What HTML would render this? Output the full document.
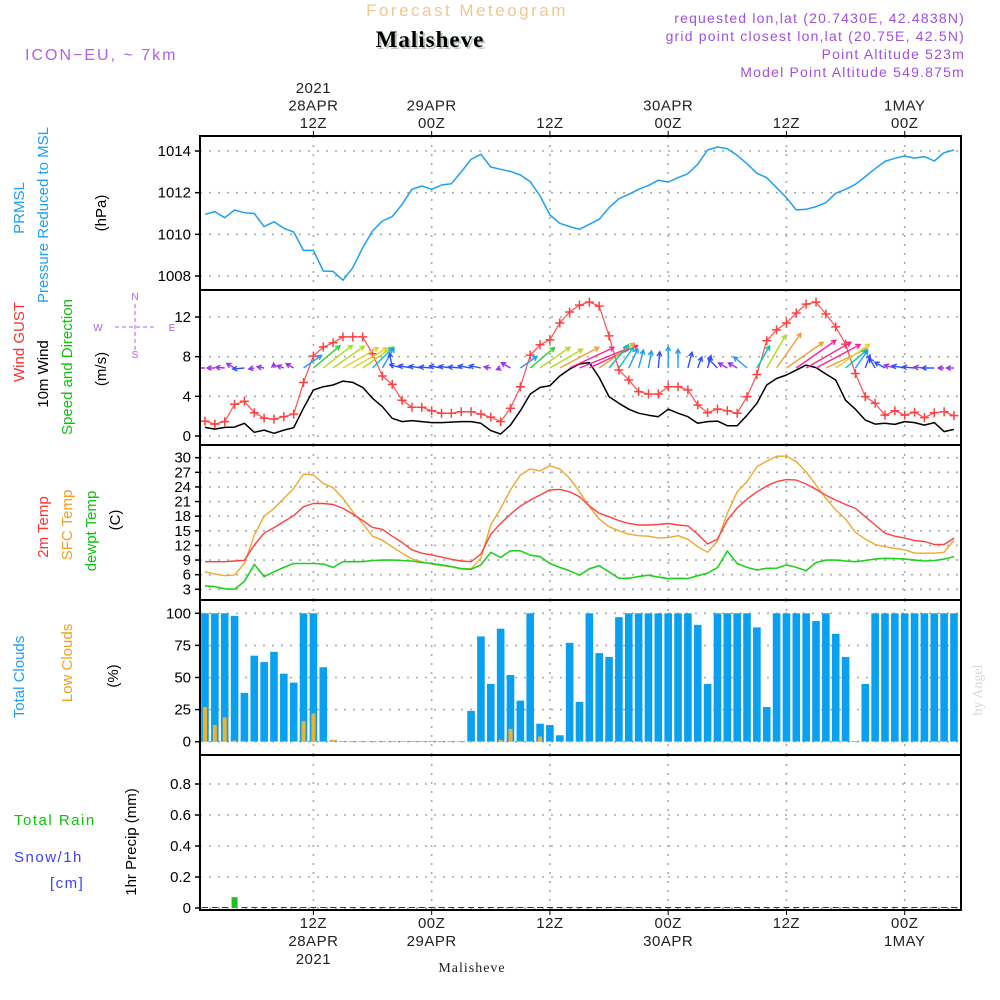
<!DOCTYPE html>
<html><head><meta charset="utf-8"><title>Meteogram Malisheve</title>
<style>
html,body{margin:0;padding:0;background:#fff;}
svg{display:block;font-family:"Liberation Sans",sans-serif;}
.tk{font-size:15px;fill:#000;text-anchor:end;}
.tl{font-size:15px;fill:#222;text-anchor:middle;letter-spacing:0.5px;}
.lab{font-size:15px;}
</style></head>
<body>
<svg id="chart" width="1000" height="1000" viewBox="0 0 1000 1000" xmlns="http://www.w3.org/2000/svg">
<rect x="0" y="0" width="1000" height="1000" fill="#fff"/>
<text x="467" y="16" font-size="17" fill="#f0c890" text-anchor="middle" letter-spacing="2.5">Forecast Meteogram</text>
<text x="432" y="49" font-size="23" font-weight="bold" font-family="Liberation Serif, serif" fill="#b8c8b8" text-anchor="middle" letter-spacing="1">Malisheve</text>
<text x="430" y="47" font-size="23" font-weight="bold" font-family="Liberation Serif, serif" fill="#000" text-anchor="middle" letter-spacing="1">Malisheve</text>
<text x="25" y="60" font-size="16" fill="#b060e8" letter-spacing="2">ICON−EU, ~ 7km</text>
<g font-size="14" fill="#a050e0" text-anchor="end" letter-spacing="1.2">
<text x="965" y="23">requested lon,lat (20.7430E, 42.4838N)</text>
<text x="965" y="41">grid point closest lon,lat (20.75E, 42.5N)</text>
<text x="965" y="59">Point Altitude 523m</text>
<text x="965" y="77">Model Point Altitude 549.875m</text>
</g>
<!-- left labels -->
<g class="lab">
<text transform="translate(24,208) rotate(-90)" fill="#1ea0f0" text-anchor="middle">PRMSL</text>
<text transform="translate(48,215) rotate(-90)" fill="#1ea0f0" text-anchor="middle">Pressure Reduced to MSL</text>
<text transform="translate(106,213) rotate(-90)" fill="#000" text-anchor="middle">(hPa)</text>
<text transform="translate(24,342) rotate(-90)" fill="#ff3030" text-anchor="middle">Wind GUST</text>
<text transform="translate(48,374) rotate(-90)" fill="#000" text-anchor="middle">10m Wind</text>
<text transform="translate(72,367) rotate(-90)" fill="#10c010" text-anchor="middle">Speed and Direction</text>
<text transform="translate(106,369) rotate(-90)" fill="#000" text-anchor="middle">(m/s)</text>
<text transform="translate(48,527) rotate(-90)" fill="#ff3030" text-anchor="middle">2m Temp</text>
<text transform="translate(72,525) rotate(-90)" fill="#f0a020" text-anchor="middle">SFC Temp</text>
<text transform="translate(96,531) rotate(-90)" fill="#10c010" text-anchor="middle">dewpt Temp</text>
<text transform="translate(120,520) rotate(-90)" fill="#000" text-anchor="middle">(C)</text>
<text transform="translate(24,677) rotate(-90)" fill="#1ea0f0" text-anchor="middle">Total Clouds</text>
<text transform="translate(72,663) rotate(-90)" fill="#f0a020" text-anchor="middle">Low Clouds</text>
<text transform="translate(118,676) rotate(-90)" fill="#000" text-anchor="middle">(%)</text>
<text x="14" y="825" fill="#10c010" letter-spacing="1.5">Total  Rain</text>
<text x="14" y="862" fill="#4040ff" letter-spacing="1.5">Snow/1h</text>
<text x="50" y="888" fill="#4040ff" letter-spacing="1.5">[cm]</text>
<text transform="translate(136,842) rotate(-90)" fill="#000" text-anchor="middle">1hr Precip (mm)</text>
</g>
<g fill="#b060e8" stroke="#b060e8" font-size="10">
<text x="135" y="300" stroke="none" text-anchor="middle">N</text>
<text x="98" y="331" stroke="none" text-anchor="middle">W</text>
<text x="172" y="331" stroke="none" text-anchor="middle">E</text>
<text x="135" y="358" stroke="none" text-anchor="middle">S</text>
<line x1="115" y1="327" x2="155" y2="327" stroke-dasharray="4,3"/>
<line x1="135" y1="304" x2="135" y2="350" stroke-dasharray="4,3"/>
</g>
<text transform="translate(982,690) rotate(-90)" font-family="Liberation Serif, serif" font-size="14" fill="#d8d8d8" text-anchor="middle">by Angel</text>
<text x="472" y="972" font-family="Liberation Serif, serif" font-size="14" fill="#222" text-anchor="middle" letter-spacing="1">Malisheve</text>
<g id="plot"></g>
</svg>
<script>
// ---- data (hourly, index 0 = 01Z 28APR) ----
const pressure = [1010.96,1011.09,1010.8,1011.17,1011.04,1011.0,1010.37,1010.6,1010.29,1010.11,1009.23,1009.23,1008.24,1008.22,1007.8,1008.4,1009.36,1010.16,1010.64,1010.85,1011.44,1012.16,1012.32,1012.16,1012.37,1012.43,1012.99,1013.6,1013.84,1013.23,1013.12,1013.02,1012.85,1012.53,1011.84,1010.93,1010.53,1010.37,1010.24,1010.48,1010.72,1011.28,1011.71,1011.92,1012.16,1012.35,1012.6,1012.51,1012.72,1012.91,1013.36,1014.05,1014.19,1014.11,1013.79,1013.39,1012.93,1012.72,1012.24,1011.76,1011.17,1011.2,1011.33,1011.52,1011.97,1012.16,1012.4,1012.77,1013.15,1013.5,1013.65,1013.76,1013.66,1013.73,1013.52,1013.92,1014.05];
const gust = [1.5,1.2,1.45,3.2,3.5,2.35,1.8,1.7,1.95,2.2,5.4,8.06,8.97,9.4,10,10,10,8.3,6.05,5.2,3.6,2.9,2.9,2.55,2.3,2.3,2.45,2.45,2.2,1.9,1.45,2.8,4.97,8.15,9.2,9.7,11.4,12.5,13.2,13.5,13.1,10.1,6.65,5.65,4.47,4.23,4.23,4.97,4.97,4.64,3.13,2.35,2.72,2.55,2.3,3.97,6.2,9.6,10.7,11.4,12.4,13.3,13.5,12.3,11,9.27,6.3,3.97,3.3,2.1,2.55,2.1,2.4,1.85,2.35,2.45,2.05];
const wind = [0.87,0.7,0.87,0.9,1.28,0.37,0.6,0.27,0.6,0.84,2.8,4.64,4.97,5.14,5.54,5.4,4.9,3.8,2.95,1.78,1.45,1.55,1.45,1.35,1.35,1.4,1.45,1.45,1.28,0.54,0.2,1.1,2.55,4.23,4.9,5.07,6.05,6.75,7.26,7.4,5.9,3.97,3.3,2.7,2.3,2.1,1.95,2.7,2.3,1.95,1.28,1.45,1.5,1.04,1.04,2.1,3.3,5.14,5.8,6.15,6.65,7.15,6.9,6.25,5.65,3.6,2.7,1.6,1.2,1.28,1.17,1.45,1.35,1.1,1.35,0.44,0.67];
const windDir = [180,180,175,150,185,190,170,95,160,150,35,40,38,35,30,30,35,45,60,100,165,170,172,175,170,172,175,170,168,170,200,150,35,40,35,30,28,25,22,25,35,50,55,65,75,80,85,90,90,75,70,75,135,150,150,140,60,60,55,35,35,30,28,25,35,40,55,70,120,150,165,170,175,175,180,180,180];
const temp2m = [8.67,8.67,8.67,8.8,8.95,12.1,14.5,15.65,16.9,18.1,19.95,20.6,20.6,20.4,19.6,18.45,17.1,15.7,15.3,13.9,12.6,11.1,10.4,10.05,9.6,9.15,8.8,8.67,10.25,14.3,16.5,18.4,20.1,21.3,22.35,23.4,23.5,23.0,22.0,20.1,18.6,17.9,17.1,16.5,16.2,16.2,16.3,16.5,16.2,16.0,14.3,12.3,13.3,17.2,19.7,21.5,23.0,24.2,25.1,25.5,25.4,24.6,23.5,22.3,21.3,20.4,19.6,17.9,16.2,14.5,13.9,13.5,13.0,12.8,12.2,12.2,13.5];
const tempSfc = [6.6,6.15,5.8,5.95,8.3,14.1,18.0,19.6,21.65,23.7,26.65,26.45,24.7,23.85,21.65,18.9,16.5,13.9,13.1,11.7,10.4,9.2,8.67,8.2,7.85,7.65,7.3,7.2,9.35,16.2,19.6,23.4,26.45,27.7,27.3,28.35,27.7,25.8,23.0,20.0,17.4,15.85,15.0,14.3,14.0,13.9,13.5,13.6,14.0,13.25,11.75,10.6,12.9,18.6,23.0,25.1,28.15,29.3,30.3,30.3,29.2,27.1,24.4,21.65,19.3,17.4,14.7,13.3,12.2,11.75,11.4,11.1,10.4,10.4,10.4,10.6,13.1];
const dewpt = [3.7,3.55,3.1,3.0,4.6,8.1,5.6,6.6,7.5,8.3,8.3,8.3,8.2,7.5,8.67,8.67,8.67,8.9,9.0,9.0,8.9,8.8,8.5,8.3,8.0,7.65,7.2,7.1,8.0,10.6,9.55,10.9,10.9,10.0,9.7,8.3,7.5,6.8,5.9,7.2,7.85,6.6,5.25,5.25,5.6,5.9,5.5,5.2,5.25,5.2,5.8,6.3,7.45,10.85,8.3,7.5,6.95,7.3,7.3,8.0,7.5,6.8,8.5,9.0,9.0,8.8,8.67,8.9,9.2,9.35,9.3,9.2,9.0,8.8,8.9,9.2,9.7];
const totalClouds = [100,100,100,98,38,67,62,70,53,46,100,100,58,1,0.5,0.5,0.5,0.5,0.5,0.5,0.5,0.5,0.5,0.5,0.5,0.5,0.5,24,82,45,88,52,32,100,14,13,5,77,31,100,69,66,97,100,100,100,100,100,100,100,91,45,100,100,100,100,89,27,100,100,100,100,94,100,84,66,0.5,45,100,100,100,100,100,100,100,100,100];
const lowClouds = [27,13,19,1,0.5,0.5,0.5,0.5,0.5,0.5,16,22,0.5,1.5,0.5,0.5,0.5,0.5,0.5,0.5,0.5,0.5,0.5,0.5,0.5,0.5,0.5,0.5,0.5,0.5,1.5,10,0.5,0.5,4,0.5,0.5,0.5,0.5,0.5,0.5,0.5,0.5,0.5,0.5,0.5,0.5,0.5,0.5,0.5,0.5,0.5,0.5,0.5,0.5,0.5,0.5,0.5,0.5,0.5,0.5,0.5,0.5,0.5,0.5,0.5,0.5,0.5,0.5,0.5,0.5,0.5,0.5,0.5,0.5,0.5,0.5];
const precip = [0,0,0,0.07,0,0,0,0,0,0,0,0,0,0,0,0,0,0,0,0,0,0,0,0,0,0,0,0,0,0,0,0,0,0,0,0,0,0,0,0,0,0,0,0,0,0,0,0,0,0,0,0,0,0,0,0,0,0,0,0,0,0,0,0,0,0,0,0,0,0,0,0,0,0,0,0,0];
const pressureTicks = [1008,1010,1012,1014];
const windTicks = [0,4,8,12];
const tempTicks = [3,6,9,12,15,18,21,24,27,30];
const cloudTicks = [0,25,50,75,100];
const precipTicks = [0,0.2,0.4,0.6,0.8];
const topLabels = [["2021","28APR","12Z"],["","29APR","00Z"],["","","12Z"],["","30APR","00Z"],["","","12Z"],["","1MAY","00Z"]];
const bottomLabels = [["12Z","28APR","2021"],["00Z","29APR",""],["12Z","",""],["00Z","30APR",""],["12Z","",""],["00Z","1MAY",""]];
const gridHours = [12,24,36,48,60,72];

// ---- layout ----
const L=200,R=961,START_HOUR=1;
const xH = h => 313.4 + (h-12)*9.855;
const xi = i => xH(i+START_HOUR);
const lin=(v0,p0,v1,p1)=>v=>p0+(v-v0)*(p1-p0)/(v1-v0);
const yP=lin(1008,276,1014,151), yW=lin(0,436,12,317), yT=lin(3,589.3,30,457.7), yC=lin(0,741.7,100,613.3), yR=lin(0,908,0.8,784);
const panels=[[136,290],[290,445],[445,600],[600,755],[755,910]];
const NS="http://www.w3.org/2000/svg";
const plot=document.getElementById('plot');
function mk(tag,attrs,parent){const e=document.createElementNS(NS,tag);for(const k in attrs)e.setAttribute(k,attrs[k]);(parent||plot).appendChild(e);return e;}

// clip
const defs=mk('defs',{});
const cp=mk('clipPath',{id:'clip'},defs);
mk('rect',{x:L,y:136,width:R-L,height:774},cp);

// grid
const grid=mk('g',{stroke:'#aaa','stroke-width':1.6,'stroke-dasharray':'2,7',fill:'none'});


gridHours.forEach(h=>{const gx=xH(h);panels.forEach(p=>mk('line',{x1:gx,y1:p[0],x2:gx,y2:p[1]},grid));});
function hgrid(ticks,fy,name,fmt){
  const g=mk('g',{});
  
  
  ticks.forEach(t=>{const y=fy(t);
    mk('line',{x1:L,y1:y,x2:R,y2:y,stroke:'#aaa','stroke-width':1.6,'stroke-dasharray':'2,7'},g);
    mk('line',{x1:L-5,y1:y,x2:L,y2:y,stroke:'#000','stroke-width':1.5},g);
    const tx=mk('text',{x:L-9,y:y+5,class:'tk'},g);tx.textContent=fmt?fmt(t):t;});
}
hgrid(pressureTicks,yP,'pressure-y-axis');
hgrid(windTicks,yW,'wind-y-axis');
hgrid(tempTicks,yT,'temp-y-axis');
hgrid(cloudTicks,yC,'cloud-y-axis');
hgrid(precipTicks,yR,'precip-y-axis',t=>t===0?'0':t.toFixed(1));

const body=mk('g',{'clip-path':'url(#clip)'});
function line(arr,fy,color,name,w){
  const pts=arr.map((v,i)=>xi(i).toFixed(1)+','+fy(v).toFixed(1)).join(' ');
  const p=mk('polyline',{points:pts,fill:'none',stroke:color,'stroke-width':w||1.4,'stroke-linejoin':'round'},body);
  
  
  return p;
}
// pressure
line(pressure,yP,'#1ea0f0','pressure-line',1.5);
// clouds
const cg=mk('g',{},body);


totalClouds.forEach((v,i)=>{const b=mk('rect',{x:xi(i)-3.8,y:yC(v),width:7.6,height:yC(0)-yC(v),fill:'#0aa0f0'},cg);
  
  });
lowClouds.forEach((v,i)=>{const b=mk('rect',{x:xi(i)-2,y:yC(v),width:4,height:yC(0)-yC(v),fill:'#f0b030'},cg);
  
  });
// precip
const pg=mk('g',{},body);


precip.forEach((v,i)=>{
  if(v>0){const b=mk('rect',{x:xi(i)-3,y:yR(v),width:6,height:yR(0)-yR(v),fill:'#20c020'},pg);
    
    }
  else{const b=mk('line',{x1:xi(i)-3,y1:yR(0)-0.5,x2:xi(i)+3,y2:yR(0)-0.5,stroke:'#333','stroke-width':1},pg);
    
    }
});
// temps
line(tempSfc,yT,'#f0a830','sfc-temp-line',1.4);
line(temp2m,yT,'#ff4040','temp-2m-line',1.4);
line(dewpt,yT,'#20d020','dewpt-line',1.6);
// wind
line(wind,yW,'#000','wind-speed-line',1.5);
line(gust,yW,'#ff5050','gust-line',1.2);
const gx=mk('g',{stroke:'#ff4040','stroke-width':1.5},body);


gust.forEach((v,i)=>{const x=xi(i),y=yW(v);
  const c=mk('path',{d:`M${x-4.5},${y}H${x+4.5}M${x},${y-4.5}V${y+4.5}`},gx);
  
  });
function wcol(s){if(s<1.2)return'#9b30f0';if(s<2)return'#3050ff';if(s<3)return'#1e9bff';if(s<4)return'#00c8b0';if(s<4.7)return'#30d030';if(s<5.3)return'#b0dc20';if(s<5.8)return'#e6d030';if(s<6.6)return'#f0a030';return'#ff2090';}
const ag=mk('g',{fill:'none','stroke-width':1.4},body);


const AY=368;
windDir.forEach((d,i)=>{const s=wind[i],len=3+6.8*s,a=d*Math.PI/180;
  const x0=xi(i),y0=AY,x1=x0+len*Math.cos(a),y1=y0-len*Math.sin(a);
  const h=5,a1=a+Math.PI-0.5,a2=a+Math.PI+0.5;
  const p=mk('path',{d:`M${x0},${y0}L${x1},${y1}M${x1+h*Math.cos(a1)},${y1-h*Math.sin(a1)}L${x1},${y1}L${x1+h*Math.cos(a2)},${y1-h*Math.sin(a2)}`,stroke:wcol(s)},ag);
  
  });

// frames
panels.forEach(p=>{const r=mk('rect',{x:L,y:p[0],width:R-L,height:p[1]-p[0],fill:'none',stroke:'#000','stroke-width':2});
  
  });

// time labels
const tg=mk('g',{});


gridHours.forEach((h,k)=>{const x=xH(h);
  mk('line',{x1:x,y1:131,x2:x,y2:136,stroke:'#000','stroke-width':1},tg);
  mk('line',{x1:x,y1:910,x2:x,y2:915,stroke:'#000','stroke-width':1},tg);
  topLabels[k].forEach((s,j)=>{if(s){const t=mk('text',{x:x,y:93+j*17.5,class:'tl'},tg);t.textContent=s;}});
  bottomLabels[k].forEach((s,j)=>{if(s){const t=mk('text',{x:x,y:928+j*18,class:'tl'},tg);t.textContent=s;}});
});
</script>
</body></html>
